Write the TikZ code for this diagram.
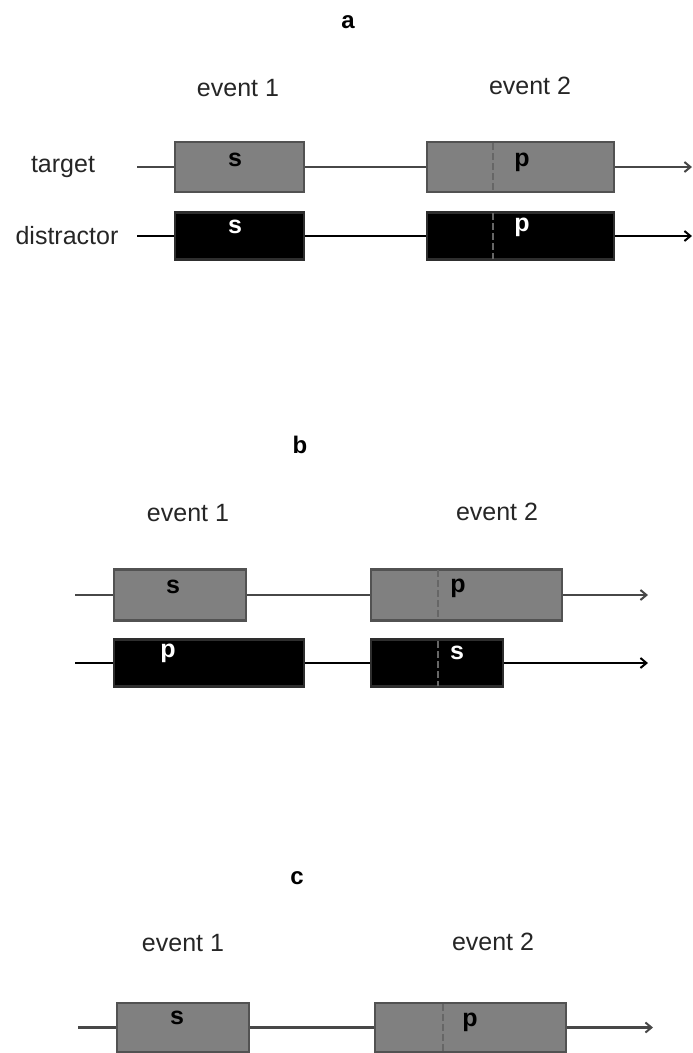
\documentclass[tikz,border=0pt]{standalone}
\usepackage{fontspec}
\setmainfont{Liberation Sans}
\usetikzlibrary{arrows.meta}
\begin{document}
\begin{tikzpicture}[x=1pt,y=-1pt,
  lbl/.style={font=\fontsize{25}{28}\selectfont, text=black!85, inner sep=0},
  ttl/.style={font=\fontsize{24}{28}\selectfont\bfseries, inner sep=0, text=black},
  gbox/.style={draw=black!68, line width=2.6pt, fill=black!50, inner sep=0},
  bbox/.style={draw=black!82, line width=2.6pt, fill=black, inner sep=0},
  tline/.style={draw=black!72, line width=2.7pt},
  dline/.style={draw=black, line width=2.9pt},
  arr/.style={-{Straight Barb[length=6pt,width=10pt,line width=2pt]}},
  divider/.style={draw=black!60, line width=2.5pt, dash pattern=on 7pt off 3pt},
  blk/.style={font=\fontsize{25}{28}\selectfont\bfseries, inner sep=0, text=black},
  wht/.style={blk, text=white}]
\clip (0,0) rectangle (693,1053);
\fill[white] (0,0) rectangle (693,1053);

% ---------------- panel a ----------------
\node[ttl] (ta) at (348,22) {a};
\node[lbl] (ae1) at (238,88) {event 1};
\node[lbl] (ae2) at (530,86) {event 2};
\node[lbl] (tgt) at (63,167) {target};
\node[lbl] (dis) at (67,236) {distractor};

\coordinate (as1) at (137,167);
\coordinate (ae1e) at (692,167);
\node[gbox, minimum width=129pt, minimum height=50pt] (ta1) at (239.5,167) {};
\node[gbox, minimum width=187pt, minimum height=50pt] (ta2) at (520.5,167) {};
\draw[tline] (as1) -- (ta1.west);
\draw[tline] (ta1.east) -- (ta2.west);
\draw[tline, arr] (ta2.east) -- (ae1e);
\draw[divider] (493,143) -- (493,191);
\node[blk] (ta1l) at (235,160) {s};
\node[blk] (ta2l) at (522,162) {p};

\coordinate (as2) at (137,236);
\coordinate (ae2e) at (692,236);
\node[bbox, minimum width=129pt, minimum height=47pt] (da1) at (239.5,236) {};
\node[bbox, minimum width=187pt, minimum height=47pt] (da2) at (520.5,236) {};
\draw[dline] (as2) -- (da1.west);
\draw[dline] (da1.east) -- (da2.west);
\draw[dline, arr] (da2.east) -- (ae2e);
\draw[divider] (493,213) -- (493,259);
\node[wht] (da1l) at (235,227) {s};
\node[wht] (da2l) at (522,227) {p};

% ---------------- panel b ----------------
\node[ttl] (tb) at (300,445) {b};
\node[lbl] (be1) at (188,513) {event 1};
\node[lbl] (be2) at (497,512) {event 2};

\coordinate (bs1) at (75,595);
\coordinate (bt1) at (648,595);
\node[gbox, minimum width=132pt, minimum height=51pt] (tb1) at (180,595) {};
\node[gbox, minimum width=191pt, minimum height=51pt] (tb2) at (466.5,595) {};
\draw[tline] (bs1) -- (tb1.west);
\draw[tline] (tb1.east) -- (tb2.west);
\draw[tline, arr] (tb2.east) -- (bt1);
\draw[divider] (438,570) -- (438,619);
\node[blk] (tb1l) at (173,587) {s};
\node[blk] (tb2l) at (458,588) {p};

\coordinate (bs2) at (75,663);
\coordinate (bt2) at (648,663);
\node[bbox, minimum width=190pt, minimum height=47pt] (bb1) at (209,663) {};
\node[bbox, minimum width=132pt, minimum height=47pt] (bb2) at (437,663) {};
\draw[dline] (bs2) -- (bb1.west);
\draw[dline] (bb1.east) -- (bb2.west);
\draw[dline, arr] (bb2.east) -- (bt2);
\draw[divider] (438,641) -- (438,686);
\node[wht] (bb1l) at (168,653) {p};
\node[wht] (bb2l) at (457,653) {s};

% ---------------- panel c ----------------
\node[ttl] (tc) at (297,878) {c};
\node[lbl] (ce1) at (183,943) {event 1};
\node[lbl] (ce2) at (493,942) {event 2};

\coordinate (cs1) at (78,1027.5);
\coordinate (ct1) at (653,1027.5);
\node[gbox, minimum width=132pt, minimum height=49pt] (c1) at (183,1027.5) {};
\node[gbox, minimum width=191pt, minimum height=49pt] (c2) at (470.5,1027.5) {};
\draw[tline] (cs1) -- (c1.west);
\draw[tline] (c1.east) -- (c2.west);
\draw[tline, arr] (c2.east) -- (ct1);
\draw[divider] (443,1004) -- (443,1052);
\node[blk] (c1l) at (177,1018) {s};
\node[blk] (c2l) at (470,1022) {p};
\end{tikzpicture}
\end{document}
